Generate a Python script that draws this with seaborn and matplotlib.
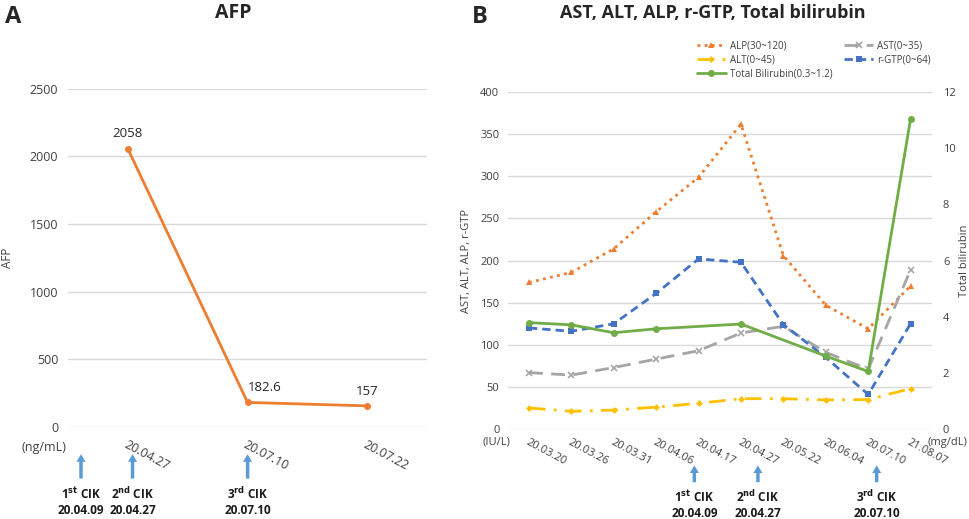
import numpy as np
import pandas as pd
import seaborn as sns
import matplotlib.pyplot as plt

# panel A data
afp_dates = ["20.04.27", "20.07.10", "20.07.22"]
afp_vals = [2058, 182.6, 157]
afp_labels = ["2058", "182.6", "157"]
afp_label_ha = ["center", "left", "center"]

# panel B data
lab_dates = ["20.03.20", "20.03.26", "20.03.31", "20.04.06", "20.04.17",
             "20.04.27", "20.05.22", "20.06.04", "20.07.10", "21.08.07"]
alp = [174, 186, 214, 258, 299, 362, 206, 147, 119, 170]
ast = [67, 64, 73, 83, 93, 114, 122, 91, 71, 189]
alt = [25, 21, 22.5, 26, 30.5, 36, 36, 34.5, 35, 48]
rgtp = [120, 116, 125, 161, 202, 198, 124, 85, 41, 125]
tbil = [3.79, 3.71, 3.43, 3.57, np.nan, 3.74, np.nan, 2.6, 2.05, 11.05]

# CIK markers (x in category units)
cik_a = [-0.39, 0.04, 1.0]
cik_b = [3.9, 5.4, 8.2]
cik_text = ["1$^{\\mathbf{st}}$ CIK\n20.04.09", "2$^{\\mathbf{nd}}$ CIK\n20.04.27",
            "3$^{\\mathbf{rd}}$ CIK\n20.07.10"]

sns.set_style("white")
plt.rcParams['font.family'] = ['Open Sans', 'DejaVu Sans']
plt.rcParams['mathtext.fontset'] = 'dejavusans'

fig = plt.figure(figsize=(9.69, 5.19), dpi=100)
axa = fig.add_axes([0.070, 0.177, 0.371, 0.652])
axb = fig.add_axes([0.524, 0.1734, 0.4376, 0.649])

grid_c = "#d9d9d9"
txt_c = "#404040"
arrow_c = "#5b9bd5"


def style_axis(ax):
    for s in ax.spines.values():
        s.set_visible(False)
    ax.yaxis.grid(True, color=grid_c, lw=1)
    ax.set_axisbelow(True)
    ax.tick_params(length=0, colors=txt_c)


# ---- A ----
xa = np.arange(len(afp_dates))
sns.lineplot(x=xa, y=afp_vals, ax=axa, color="#ed7d31", lw=2, marker="o",
             markersize=5, markeredgewidth=0)
style_axis(axa)
axa.set_xlim(-0.5, 2.5)
axa.set_ylim(0, 2500)
axa.set_yticks(range(0, 2501, 500))
axa.tick_params(axis='y', labelsize=9, pad=7)
axa.set_xticks(xa)
axa.set_xticklabels(afp_dates, rotation=-28, ha='left', rotation_mode='anchor', fontsize=9)
axa.tick_params(axis='x', pad=8)
for x, v, t, h in zip(xa, afp_vals, afp_labels, afp_label_ha):
    axa.annotate(t, (x, v), xytext=(0, 6), textcoords='offset points', ha=h,
                 va='bottom', fontsize=9.5, color="#262626")
axa.set_ylabel("AFP", fontsize=8.5, color=txt_c)
axa.yaxis.set_label_coords(-0.15, 0.5)
axa.text(-0.003, -0.059, "(ng/mL)", transform=axa.transAxes, ha='right', va='center',
         fontsize=9, color=txt_c)
fig.text(233 / 969, 1 - 13 / 519, "AFP", fontsize=14, fontweight='bold',
         ha='center', va='center')

# ---- B ----
xb = np.arange(len(lab_dates))
sns.lineplot(x=xb, y=alp, ax=axb, color="#ed7d31", lw=2, linestyle=(0, (1, 1.6)),
             marker="^", markersize=5, markeredgewidth=0, label="ALP(30~120)")
sns.lineplot(x=xb, y=ast, ax=axb, color="#a5a5a5", lw=2, linestyle=(0, (5, 3)),
             marker="x", markersize=5, markeredgewidth=1.2, markeredgecolor="#a5a5a5",
             label="AST(0~35)")
sns.lineplot(x=xb, y=alt, ax=axb, color="#ffc000", lw=2, linestyle=(0, (6, 3, 1, 3)),
             marker="D", markersize=3.5, markeredgewidth=0, label="ALT(0~45)")
sns.lineplot(x=xb, y=rgtp, ax=axb, color="#4472c4", lw=2, linestyle=(0, (3, 1.8)),
             marker="s", markersize=5, markeredgewidth=0, label="r-GTP(0~64)")
style_axis(axb)
axb.set_xlim(-0.5, 9.5)
axb.set_ylim(0, 400)
axb.set_yticks(range(0, 401, 50))
axb.tick_params(axis='y', labelsize=8, pad=6)
axb.set_xticks(xb)
axb.set_xticklabels(lab_dates, rotation=-28, ha='left', rotation_mode='anchor', fontsize=8)
axb.tick_params(axis='x', pad=6)
axb.set_ylabel("AST, ALT, ALP, r-GTP", fontsize=8, color=txt_c)
axb.yaxis.set_label_coords(-0.085, 0.5)

axr = axb.twinx()
tb = pd.DataFrame({"x": xb, "y": tbil}).dropna()
sns.lineplot(data=tb, x="x", y="y", ax=axr, color="#70ad47", lw=2, marker="o",
             markersize=5, markeredgewidth=0, label="Total Bilirubin(0.3~1.2)")
for s in axr.spines.values():
    s.set_visible(False)
axr.set_ylim(0, 12)
axr.set_yticks(range(0, 13, 2))
axr.tick_params(length=0, colors=txt_c, labelsize=8, pad=8)
axr.set_ylabel("Total bilirubin", fontsize=8, color=txt_c, rotation=90)
axr.yaxis.set_label_coords(1.065, 0.5)

axb.text(-0.026, -0.04, "(IU/L)", transform=axb.transAxes, ha='center', va='center',
         fontsize=8, color=txt_c)
axb.text(1.037, -0.04, "(mg/dL)", transform=axb.transAxes, ha='center', va='center',
         fontsize=8, color=txt_c)

h1, l1 = axb.get_legend_handles_labels()
h2, l2 = axr.get_legend_handles_labels()
axb.get_legend().remove()
axr.get_legend().remove()
hd = dict(zip(l1 + l2, h1 + h2))
order = ["ALP(30~120)", "ALT(0~45)", "Total Bilirubin(0.3~1.2)", "AST(0~35)", "r-GTP(0~64)"]
fig.legend([hd[k] for k in order], order, loc='upper left', bbox_to_anchor=(0.712, 0.935),
           ncol=2, frameon=False, fontsize=7, handlelength=3, labelspacing=0.3,
           columnspacing=1.2, handletextpad=0.4, labelcolor=txt_c, borderpad=0.2)
fig.text(713 / 969, 1 - 13 / 519, "AST, ALT, ALP, r-GTP, Total bilirubin", fontsize=13,
         fontweight='bold', ha='center', va='center')

# panel letters
fig.text(0.005, 0.99, "A", fontsize=17, fontweight='bold', va='top')
fig.text(0.487, 0.99, "B", fontsize=17, fontweight='bold', va='top')


# CIK arrows
def cik(ax, xs, y_tip, y_base, y_txt):
    tr = ax.get_xaxis_transform()
    for x, t in zip(xs, cik_text):
        ax.annotate("", xy=(x, y_tip), xytext=(x, y_base), xycoords=tr, textcoords=tr,
                    arrowprops=dict(arrowstyle="simple,head_width=0.65,head_length=0.55,tail_width=0.25",
                                    color=arrow_c, lw=0, mutation_scale=10, shrinkA=0, shrinkB=0),
                    annotation_clip=False)
        ax.text(x, y_txt, t, transform=tr, ha='center', va='top', fontsize=8.5,
                fontweight='bold', color="#1a1a1a", linespacing=1.2)


cik(axa, cik_a, -0.08, -0.152, -0.175)
cik(axb, cik_b, -0.108, -0.158, -0.178)

fig.savefig("out.png", dpi=100)
